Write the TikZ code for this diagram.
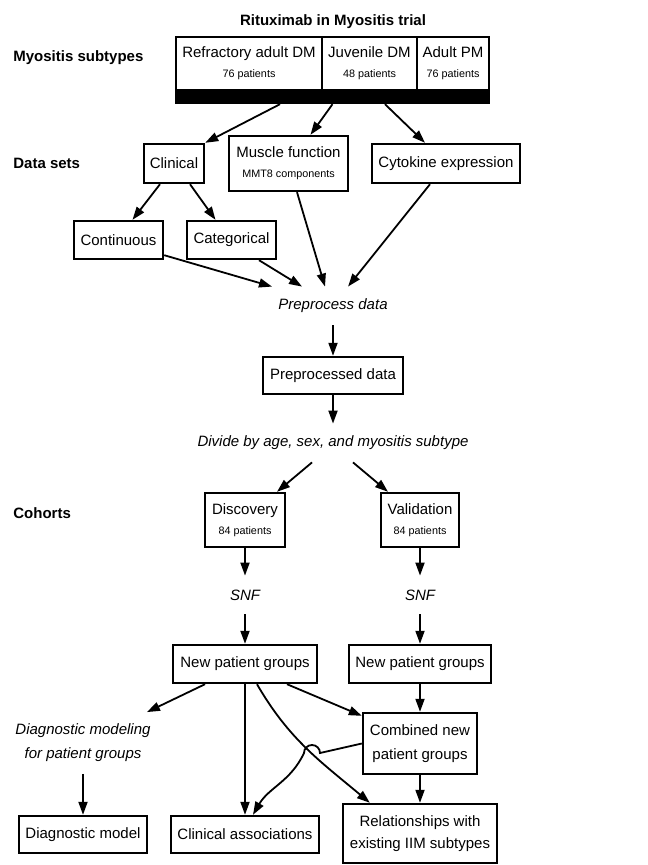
\documentclass[tikz,border=0pt]{standalone}
\usepackage{fontspec}
\setmainfont{Liberation Sans}
\usetikzlibrary{arrows.meta}
\newcommand{\npat}[1]{{\fontsize{5.4}{6.5}\selectfont #1}}

\begin{document}
\begin{tikzpicture}[
x=0.5pt, y=0.5pt,
font=\fontsize{7.5}{9}\selectfont,
box/.style={draw, line width=1.2pt, inner sep=0pt, align=center},
lbl/.style={font=\fontsize{7.5}{9}\selectfont\bfseries, anchor=west, inner sep=0pt},
stage/.style={font=\fontsize{7.5}{9}\selectfont\itshape, align=center, minimum height=19pt, inner sep=0pt},
arr/.style={-{Triangle[length=6.5pt,width=4.5pt]}, line width=0.9pt}
]
\useasboundingbox (0,0) rectangle (647,-865);

% Titel und Ebenen
\node[font=\fontsize{7.5}{9}\selectfont\bfseries] (title) at (333,-22) {Rituximab in Myositis trial};
\node[lbl] (lsub) at (13,-58) {Myositis subtypes};
\node[lbl] (ldata) at (13,-163) {Data sets};
\node[lbl] (lcoh) at (13,-513) {Cohorts};

% Subtypen
\node[box, minimum width=73pt, minimum height=26.5pt] (refdm) at (249,-63.5) {Refractory adult DM\\[1pt]\npat{76 patients}};
\node[box, minimum width=47.5pt, minimum height=26.5pt] (juvdm) at (369.5,-63.5) {Juvenile DM\\[1pt]\npat{48 patients}};
\node[box, minimum width=36pt, minimum height=26.5pt] (adpm) at (453,-63.5) {Adult PM\\[1pt]\npat{76 patients}};
\node[fill=black, draw, line width=1.2pt, inner sep=0pt, minimum width=156.5pt, minimum height=6.5pt] (bar) at (332.5,-96.5) {};

% Datensaetze
\node[box, minimum width=30pt, minimum height=19.5pt] (clin) at (174,-163.5) {Clinical};
\node[box, minimum width=59.5pt, minimum height=27.5pt] (musc) at (288.5,-163.5) {Muscle function\\[1pt]\npat{MMT8 components}};
\node[box, minimum width=74pt, minimum height=19.5pt] (cyto) at (446,-163.5) {Cytokine expression};
\node[box, minimum width=44.5pt, minimum height=19pt] (cont) at (118.5,-240) {Continuous};
\node[box, minimum width=44.5pt, minimum height=19pt] (cat) at (231.5,-240) {Categorical};

% Vorverarbeitung
\node[stage] (pre) at (333,-306) {Preprocess data};
\node[box, minimum width=70pt, minimum height=18.5pt] (prep) at (333,-375.5) {Preprocessed data};
\node[stage] (div) at (333,-443) {Divide by age, sex, and myositis subtype};

% Kohorten
\node[box, minimum width=40pt, minimum height=27pt] (disc) at (245,-520) {Discovery\\[1pt]\npat{84 patients}};
\node[box, minimum width=39pt, minimum height=27pt] (val) at (420,-520) {Validation\\[1pt]\npat{84 patients}};
\node[stage] (snfd) at (245,-595) {SNF};
\node[stage] (snfv) at (420,-595) {SNF};
\node[box, minimum width=72pt, minimum height=19pt] (npgd) at (245,-664) {New patient groups};
\node[box, minimum width=71pt, minimum height=19pt] (npgv) at (420,-664) {New patient groups};
\node[box, minimum width=57pt, minimum height=30.5pt] (comb) at (420,-743.5) {Combined new\\[3pt]patient groups};

% Ergebnisse
\node[stage, minimum height=30.5pt] (diag) at (83,-743) {Diagnostic modeling\\[3pt]for patient groups};
\node[box, minimum width=64pt, minimum height=18.5pt] (dmod) at (83,-834.5) {Diagnostic model};
\node[box, minimum width=74pt, minimum height=18.5pt] (cass) at (245,-834.5) {Clinical associations};
\node[box, minimum width=77pt, minimum height=29.5pt] (rel) at (420,-833.5) {Relationships with\\[2pt]existing IIM subtypes};

% Verbindungen
\draw[arr] ([xshift=-26.25pt]bar.south) -- (clin.north east);
\draw[arr] (bar.south) -- ([xshift=11pt]musc.north);
\draw[arr] ([xshift=26.25pt]bar.south) -- ([xshift=-10.5pt]cyto.north);

\draw[arr] ([xshift=-7pt]clin.south) -- ([xshift=7pt]cont.north);
\draw[arr] ([xshift=8pt]clin.south) -- ([xshift=-8pt]cat.north);
\draw[arr] ([yshift=2.5pt]cont.south east) -- ([xshift=-30.5pt]pre.north);
\draw[arr] ([xshift=13.75pt]cat.south) -- ([xshift=-15.5pt]pre.north);
\draw[arr] ([xshift=4.25pt]musc.south) -- ([xshift=-4pt]pre.north);
\draw[arr] ([xshift=-8pt]cyto.south) -- ([xshift=7.5pt]pre.north);

\draw[arr] (pre) -- (prep);
\draw[arr] (prep) -- (div);
\draw[arr] ([xshift=-10.5pt]div.south) -- ([xshift=16pt]disc.north);
\draw[arr] ([xshift=10pt]div.south) -- ([xshift=-16pt]val.north);

\draw[arr] (disc.south) -- (snfd.north);
\draw[arr] (snfd.south) -- (npgd.north);
\draw[arr] (val.south) -- (snfv.north);
\draw[arr] (snfv.south) -- (npgv.north);
\draw[arr] (npgv) -- (comb);
\draw[arr] (comb) -- (rel);

\draw[arr] ([xshift=-20pt]npgd.south) -- ([xshift=-2pt]diag.north east);
\draw[arr] (diag) -- (dmod);
\draw[arr] (npgd.south) -- (cass.north);
\draw[arr] ([xshift=21pt]npgd.south) -- ([yshift=-2pt]comb.north west);
\draw[arr] ([xshift=6pt]npgd.south) to[out=-60, in=140] ([xshift=14pt]rel.north west);

% Bogen ueber die Kreuzung
\coordinate (hop) at (320,-753);
\draw[arr] (comb.west) -- (hop) arc[start angle=0, end angle=180, radius=4pt] to[out=-115, in=60] ([xshift=4pt]cass.north);

\end{tikzpicture}
\end{document}
